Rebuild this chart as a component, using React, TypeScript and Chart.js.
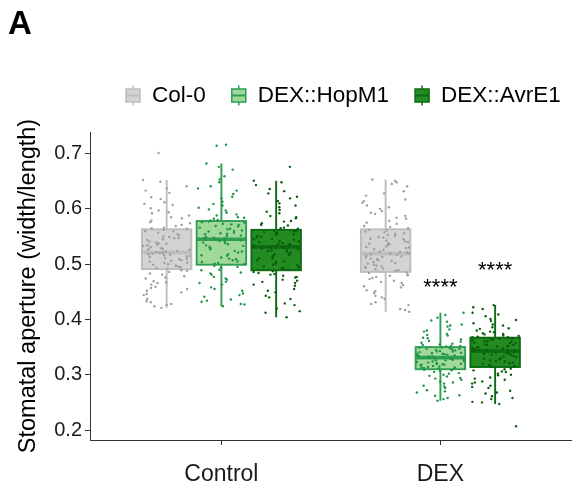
import React, { useEffect, useRef } from "react";
import { Chart, registerables } from "chart.js";

Chart.register(...registerables);

const FONT = '"Liberation Sans", Arial, Helvetica, sans-serif';

// ---------- data ----------
const categories = ["Control", "DEX"];
const groups = ["Col-0", "DEX::HopM1", "DEX::AvrE1"];
const yTicks = [0.2, 0.3, 0.4, 0.5, 0.6, 0.7];
const xTicks = [1, 2];

// box summaries, [group][category]
const whiskerLow = [[0.421, 0.414], [0.424, 0.253], [0.404, 0.247]];
const q1 = [[0.491, 0.486], [0.499, 0.31], [0.489, 0.314]];
const median = [[0.521, 0.519], [0.545, 0.331], [0.531, 0.343]];
const q3 = [[0.563, 0.563], [0.578, 0.35], [0.562, 0.367]];
const whiskerHigh = [[0.652, 0.653], [0.682, 0.412], [0.651, 0.426]];

// individual stomata (jittered points)
const col0Control = [
  0.652, 0.641, 0.633, 0.629, 0.618, 0.612, 0.607, 0.601, 0.597, 0.594, 0.588, 0.583, 0.579, 0.574, 0.571, 0.566, 0.564,
  0.562, 0.559, 0.557, 0.552, 0.549, 0.547, 0.545, 0.541, 0.538, 0.537, 0.533, 0.531, 0.528, 0.526, 0.524, 0.522, 0.521,
  0.519, 0.517, 0.515, 0.514, 0.511, 0.509, 0.506, 0.503, 0.502, 0.499, 0.497, 0.495, 0.493, 0.492, 0.513, 0.527, 0.535, 0.518,
  0.489, 0.486, 0.481, 0.478, 0.476, 0.469, 0.466, 0.463, 0.457, 0.452, 0.449, 0.444, 0.437, 0.433, 0.428, 0.424, 0.421,
  0.701,
  0.649, 0.637, 0.621, 0.609, 0.592, 0.585, 0.576, 0.569, 0.565,
  0.56, 0.554, 0.55, 0.544, 0.539, 0.534, 0.529, 0.523, 0.52, 0.516, 0.51, 0.507, 0.505, 0.5, 0.496, 0.494, 0.547,
  0.488, 0.483, 0.474, 0.467, 0.459, 0.455, 0.446, 0.431, 0.426,
];
const col0Dex = [
  0.653, 0.648, 0.641, 0.632, 0.624, 0.617, 0.611, 0.606, 0.6, 0.596, 0.591, 0.587, 0.582, 0.578, 0.573, 0.569, 0.565,
  0.562, 0.561, 0.558, 0.556, 0.553, 0.551, 0.548, 0.545, 0.543, 0.54, 0.537, 0.535, 0.532, 0.529, 0.526, 0.523, 0.521,
  0.519, 0.517, 0.515, 0.512, 0.509, 0.507, 0.504, 0.502, 0.499, 0.497, 0.495, 0.493, 0.491, 0.489, 0.488, 0.514, 0.531, 0.52,
  0.484, 0.481, 0.479, 0.477, 0.473, 0.47, 0.466, 0.462, 0.458, 0.453, 0.448, 0.443, 0.437, 0.431, 0.426, 0.419, 0.414,
  0.651, 0.645, 0.628, 0.614, 0.603, 0.593, 0.584, 0.575, 0.567,
  0.559, 0.555, 0.549, 0.546, 0.541, 0.536, 0.53, 0.527, 0.522, 0.518, 0.513, 0.51, 0.506, 0.501, 0.496, 0.492, 0.538,
  0.485, 0.48, 0.475, 0.468, 0.46, 0.451, 0.44, 0.428, 0.417,
];
const hopControl = [
  0.682, 0.671, 0.659, 0.648, 0.641, 0.633, 0.627, 0.619, 0.613, 0.606, 0.602, 0.597, 0.593, 0.588, 0.585, 0.582, 0.58,
  0.577, 0.575, 0.572, 0.571, 0.568, 0.566, 0.563, 0.561, 0.559, 0.557, 0.554, 0.552, 0.549, 0.548, 0.546, 0.545, 0.544,
  0.541, 0.539, 0.536, 0.533, 0.531, 0.527, 0.524, 0.521, 0.518, 0.516, 0.512, 0.509, 0.507, 0.504, 0.502, 0.5, 0.543, 0.556,
  0.497, 0.494, 0.489, 0.485, 0.481, 0.477, 0.472, 0.468, 0.463, 0.458, 0.452, 0.447, 0.441, 0.436, 0.432, 0.427, 0.424,
  0.714, 0.716,
  0.676, 0.653, 0.637, 0.622, 0.609, 0.599, 0.59, 0.584, 0.579,
  0.576, 0.573, 0.569, 0.564, 0.56, 0.555, 0.551, 0.547, 0.542, 0.538, 0.534, 0.529, 0.523, 0.515, 0.51, 0.505, 0.501,
  0.495, 0.49, 0.483, 0.474, 0.466, 0.455, 0.444, 0.434, 0.428,
];
const hopDex = [
  0.412, 0.403, 0.396, 0.391, 0.387, 0.382, 0.378, 0.374, 0.371, 0.367, 0.364, 0.361, 0.358, 0.356, 0.354, 0.352, 0.351,
  0.349, 0.348, 0.347, 0.346, 0.345, 0.343, 0.342, 0.341, 0.339, 0.338, 0.337, 0.336, 0.334, 0.333, 0.332, 0.331, 0.33,
  0.329, 0.328, 0.326, 0.325, 0.324, 0.322, 0.321, 0.319, 0.318, 0.317, 0.316, 0.314, 0.313, 0.312, 0.311, 0.335, 0.327, 0.32,
  0.309, 0.307, 0.305, 0.302, 0.3, 0.297, 0.294, 0.291, 0.288, 0.284, 0.28, 0.276, 0.272, 0.268, 0.263, 0.258, 0.253,
  0.408, 0.398, 0.389, 0.38, 0.372, 0.366, 0.36, 0.355, 0.352,
  0.349, 0.347, 0.344, 0.342, 0.34, 0.338, 0.336, 0.333, 0.331, 0.329, 0.326, 0.323, 0.32, 0.318, 0.315, 0.313, 0.311,
  0.308, 0.303, 0.298, 0.293, 0.286, 0.279, 0.27, 0.262, 0.256,
];
const avrControl = [
  0.651, 0.643, 0.636, 0.628, 0.622, 0.614, 0.61, 0.603, 0.598, 0.592, 0.587, 0.583, 0.578, 0.574, 0.57, 0.566, 0.564,
  0.561, 0.559, 0.557, 0.556, 0.553, 0.551, 0.548, 0.546, 0.544, 0.542, 0.54, 0.537, 0.535, 0.534, 0.532, 0.531, 0.53,
  0.528, 0.526, 0.523, 0.521, 0.518, 0.515, 0.513, 0.51, 0.507, 0.504, 0.501, 0.498, 0.496, 0.494, 0.492, 0.49, 0.538, 0.525,
  0.487, 0.484, 0.481, 0.479, 0.476, 0.472, 0.468, 0.466, 0.461, 0.455, 0.449, 0.443, 0.437, 0.429, 0.42, 0.412, 0.404,
  0.676,
  0.648, 0.632, 0.619, 0.606, 0.595, 0.585, 0.577, 0.571, 0.565,
  0.56, 0.558, 0.554, 0.549, 0.545, 0.541, 0.536, 0.533, 0.529, 0.527, 0.524, 0.519, 0.516, 0.511, 0.505, 0.499, 0.493,
  0.486, 0.482, 0.477, 0.47, 0.463, 0.452, 0.44, 0.426, 0.415,
];
const avrDex = [
  0.426, 0.419, 0.412, 0.406, 0.401, 0.397, 0.393, 0.389, 0.386, 0.383, 0.38, 0.377, 0.375, 0.373, 0.371, 0.369, 0.368,
  0.366, 0.365, 0.364, 0.362, 0.361, 0.36, 0.358, 0.357, 0.355, 0.354, 0.352, 0.351, 0.349, 0.348, 0.346, 0.345, 0.344,
  0.343, 0.341, 0.34, 0.338, 0.336, 0.334, 0.332, 0.33, 0.328, 0.326, 0.324, 0.322, 0.32, 0.318, 0.316, 0.315, 0.339, 0.35,
  0.311, 0.308, 0.305, 0.302, 0.299, 0.295, 0.291, 0.288, 0.284, 0.28, 0.276, 0.271, 0.266, 0.261, 0.256, 0.251, 0.247,
  0.207,
  0.422, 0.409, 0.399, 0.391, 0.384, 0.378, 0.374, 0.37, 0.368,
  0.366, 0.363, 0.36, 0.357, 0.354, 0.351, 0.348, 0.345, 0.342, 0.339, 0.336, 0.333, 0.329, 0.325, 0.321, 0.317, 0.314,
  0.31, 0.306, 0.3, 0.293, 0.286, 0.278, 0.268, 0.258, 0.25,
];
// [group][category]
const points = [
  [col0Control, col0Dex],
  [hopControl, hopDex],
  [avrControl, avrDex],
];

// significance labels
const sigLabels = ["****", "****"];
const sigGroup = [1, 2];
const sigCategory = [1, 1];
const sigY = [0.446, 0.476];

// ---------- style ----------
const boxFill = ["#d3d3d3", "#a1d99b", "#228b22"];
const boxStroke = ["#bdbdbd", "#2e9f52", "#0b6a12"];
const pointColor = ["#9e9e9e", "#1e9445", "#0a5c0a"];
const dodge = [-0.25, 0, 0.25];
const boxHalf = 0.113;
const jitterHalf = 0.108;

// deterministic horizontal jitter (layout only)
function jitter(i: number, g: number, c: number) {
  const s = Math.sin(i * 12.9898 + g * 78.233 + c * 37.719) * 43758.5453;
  const t = s - Math.floor(s);
  return (t - 0.5) * 2 * jitterHalf;
}

const boxPlugin = {
  id: "boxplots",
  beforeDatasetsDraw(chart: any) {
    const { ctx, scales } = chart;
    const x = scales.x;
    const y = scales.y;
    ctx.save();
    for (let g = 0; g < groups.length; g++) {
      for (let c = 0; c < categories.length; c++) {
        const xv = xTicks[c] + dodge[g];
        const xc = x.getPixelForValue(xv);
        const xl = x.getPixelForValue(xv - boxHalf);
        const xr = x.getPixelForValue(xv + boxHalf);
        const yWl = y.getPixelForValue(whiskerLow[g][c]);
        const yQ1 = y.getPixelForValue(q1[g][c]);
        const yMed = y.getPixelForValue(median[g][c]);
        const yQ3 = y.getPixelForValue(q3[g][c]);
        const yWh = y.getPixelForValue(whiskerHigh[g][c]);
        ctx.strokeStyle = boxStroke[g];
        ctx.lineWidth = 1.9;
        ctx.beginPath();
        ctx.moveTo(xc, yWh);
        ctx.lineTo(xc, yQ3);
        ctx.moveTo(xc, yQ1);
        ctx.lineTo(xc, yWl);
        ctx.stroke();
        ctx.fillStyle = boxFill[g];
        ctx.fillRect(xl, yQ3, xr - xl, yQ1 - yQ3);
        ctx.strokeRect(xl, yQ3, xr - xl, yQ1 - yQ3);
        ctx.lineWidth = 3.6;
        ctx.beginPath();
        ctx.moveTo(xl, yMed);
        ctx.lineTo(xr, yMed);
        ctx.stroke();
      }
    }
    ctx.restore();
  },
  afterDatasetsDraw(chart: any) {
    const { ctx, scales } = chart;
    ctx.save();
    ctx.font = `22px ${FONT}`;
    ctx.fillStyle = "#000";
    ctx.textAlign = "center";
    ctx.textBaseline = "alphabetic";
    sigLabels.forEach((lab, k) => {
      const xv = xTicks[sigCategory[k]] + dodge[sigGroup[k]];
      ctx.fillText(lab, scales.x.getPixelForValue(xv), scales.y.getPixelForValue(sigY[k]));
    });
    ctx.restore();
  },
  afterDraw(chart: any) {
    const { ctx } = chart;
    ctx.save();
    ctx.font = `22.5px ${FONT}`;
    ctx.textBaseline = "middle";
    ctx.textAlign = "left";
    const ly = 95.5;
    let lx = 126;
    groups.forEach((name, g) => {
      const bw = 14;
      const cx = lx + bw / 2;
      ctx.strokeStyle = boxStroke[g];
      ctx.lineWidth = 1.5;
      ctx.beginPath();
      ctx.moveTo(cx, ly - 10);
      ctx.lineTo(cx, ly + 10);
      ctx.stroke();
      ctx.fillStyle = boxFill[g];
      ctx.fillRect(lx, ly - 6.5, bw, 13);
      ctx.strokeRect(lx, ly - 6.5, bw, 13);
      ctx.lineWidth = 2;
      ctx.beginPath();
      ctx.moveTo(lx, ly);
      ctx.lineTo(lx + bw, ly);
      ctx.stroke();
      ctx.fillStyle = "#000";
      ctx.fillText(name, lx + bw + 12, ly);
      lx += bw + 12 + ctx.measureText(name).width + 26;
    });
    ctx.restore();
  },
};

export default function App() {
  const ref = useRef<HTMLCanvasElement | null>(null);
  useEffect(() => {
    if (!ref.current) return;
    const datasets: any[] = [];
    for (let g = 0; g < groups.length; g++) {
      for (let c = 0; c < categories.length; c++) {
        datasets.push({
          label: groups[g],
          data: points[g][c].map((v, i) => ({ x: xTicks[c] + dodge[g] + jitter(i, g, c), y: v })),
          backgroundColor: pointColor[g],
          borderWidth: 0,
          pointRadius: 1.2,
          pointHoverRadius: 1.2,
        });
      }
    }
    const chart = new Chart(ref.current, {
      type: "scatter",
      data: { datasets },
      plugins: [boxPlugin],
      options: {
        animation: false,
        responsive: false,
        layout: { padding: { left: 8, right: 0, top: 0, bottom: 0 } },
        plugins: {
          legend: { display: false },
          tooltip: { enabled: false },
          title: {
            display: true,
            text: "A",
            align: "start",
            color: "#000",
            font: { family: FONT, size: 33, weight: "bold" },
            padding: { top: 5, bottom: 87.4 },
          },
        },
        scales: {
          x: {
            type: "linear",
            min: 0.4,
            max: 2.6,
            afterBuildTicks: (s: any) => {
              s.ticks = xTicks.map((v) => ({ value: v }));
            },
            afterFit: (s: any) => {
              s.height = 52;
            },
            ticks: {
              callback: (_v: any, i: number) => categories[i],
              color: "#1a1a1a",
              font: { family: FONT, size: 23 },
              padding: 16,
              maxRotation: 0,
            },
            grid: { drawOnChartArea: false, drawTicks: true, tickLength: 5, color: "#333", lineWidth: 1 },
            border: { display: true, color: "#333", width: 1 },
          },
          y: {
            type: "linear",
            min: 0.182,
            max: 0.739,
            afterBuildTicks: (s: any) => {
              s.ticks = yTicks.map((v) => ({ value: v }));
            },
            afterFit: (s: any) => {
              s.width = 82;
            },
            ticks: {
              callback: (v: any) => Number(v).toFixed(1),
              color: "#1a1a1a",
              font: { family: FONT, size: 20 },
              padding: 3,
            },
            grid: { drawOnChartArea: false, drawTicks: true, tickLength: 5, color: "#333", lineWidth: 1 },
            border: { display: true, color: "#333", width: 1 },
            title: {
              display: true,
              text: "Stomatal aperture (width/length)",
              color: "#000",
              font: { family: FONT, size: 23.5 },
              padding: { top: 6, bottom: 0 },
            },
          },
        },
      },
    } as any);
    return () => chart.destroy();
  }, []);
  return (
    <div style={{ position: "absolute", left: 0, top: 0, width: 573, height: 492, background: "#fff" }}>
      <canvas ref={ref} width={573} height={492} style={{ display: "block" }} />
    </div>
  );
}
